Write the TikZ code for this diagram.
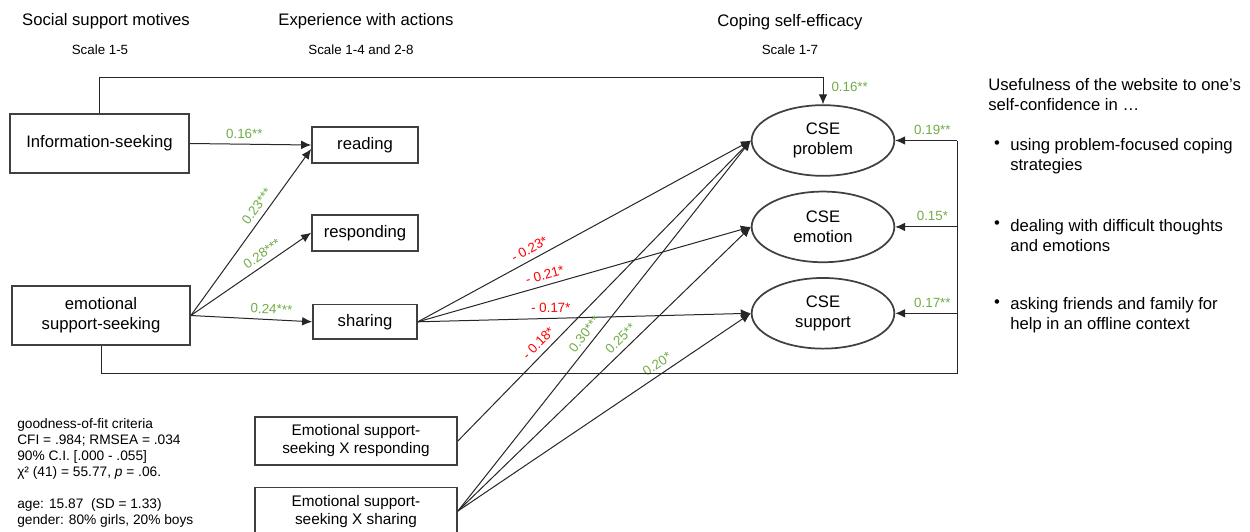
\documentclass[tikz,border=0pt]{standalone}
\usepackage{fontspec}
\setmainfont{Liberation Sans}
\usepackage{tikz}
\usetikzlibrary{arrows,arrows.meta,calc,positioning,shapes,shapes.geometric}
\definecolor{pathgreen}{HTML}{70AD47}
\definecolor{pathred}{HTML}{FF0000}
\definecolor{linegray}{HTML}{404040}

\begin{document}
\begin{tikzpicture}[x=0.75pt,y=-0.75pt,auto,>={Latex[length=7.5pt,width=6.5pt]}]
	\tikzstyle{block} = [draw=linegray, line width=1.3pt, rectangle, inner sep=0pt, align=center, font=\fontsize{12.5}{15}\selectfont]
	\tikzstyle{cse} = [draw=linegray, line width=1.3pt, ellipse, inner sep=0pt, align=center, minimum width=107pt, minimum height=53pt, font=\fontsize{12.5}{15}\selectfont]
	\tikzstyle{head} = [font=\fontsize{12.5}{15}\selectfont]
	\tikzstyle{scaletxt} = [font=\fontsize{10}{12}\selectfont]
	\tikzstyle{coef} = [font=\fontsize{10}{12}\selectfont, inner sep=4pt]
	\tikzstyle{gcoef} = [coef, text=pathgreen]
	\tikzstyle{rcoef} = [coef, text=pathred]
	\tikzstyle{conn} = [->, draw=black!85, line width=0.75pt]
	
	\useasboundingbox (0,0) rectangle (1250,532);
	
	\node[head] (hmot) at (106,21) {Social support motives};
	\node[scaletxt] (smot) at (100,50) {Scale 1-5};
	\node[head] (hexp) at (366,21) {Experience with actions};
	\node[scaletxt] (sexp) at (361,50) {Scale 1-4 and 2-8};
	\node[head] (hcse) at (790,22) {Coping self-efficacy};
	\node[scaletxt] (scse) at (790,50) {Scale 1-7};
	
	\node[block, minimum width=134pt, minimum height=44pt] (info) at (99.5,143.5) {Information-seeking};
	\node[block, minimum width=133.5pt, minimum height=44pt] (emosup) at (101,315.5) {emotional\\support-seeking};
	
	\node[block, minimum width=79.5pt, minimum height=27pt] (reading) at (365,145) {reading};
	\node[block, minimum width=79.5pt, minimum height=27pt, below = 37.5pt of reading] (responding) {responding};
	\node[block, minimum width=78pt, minimum height=26pt, below = 39pt of responding] (sharing) {sharing};
	
	\node[cse] (cseprob) at (823,140.5) {CSE\\problem};
	\node[cse, below = 10.5pt of cseprob] (cseemo) {CSE\\emotion};
	\node[cse, below = 10.5pt of cseemo] (csesup) {CSE\\support};
	
	\node[block, font=\fontsize{11.5}{13.5}\selectfont, minimum width=151.5pt, minimum height=35.5pt] (esxresp) at (356,441) {Emotional support-\\seeking X responding};
	\node[block, font=\fontsize{11.5}{13.5}\selectfont, minimum width=151.5pt, minimum height=35.5pt, below = 15.75pt of esxresp] (esxshar) {Emotional support-\\seeking X sharing};
	
	\node[anchor=north west, align=left, inner sep=0pt, font=\fontsize{10.3}{12}\selectfont] (fit) at (17,418) {goodness-of-fit criteria\\CFI = .984; RMSEA = .034\\90\% C.I. [.000 - .055]\\χ² (41) = 55.77, \textit{p} = .06.\\[12pt]age: 15.87\ \ (SD = 1.33)\\gender: 80\% girls, 20\% boys};
	
	\node[head, anchor=west, align=left, inner sep=0pt] (useful) at (988,94.5) {Usefulness of the website to one’s\\self-confidence in …};
	\node[head, anchor=west, align=left, inner sep=0pt] (item1) at (1010,156) {using problem-focused coping\\strategies};
	\node[head, anchor=west, align=left, inner sep=0pt] (item2) at (1010,236) {dealing with difficult thoughts\\and emotions};
	\node[head, anchor=west, align=left, inner sep=0pt] (item3) at (1010,315) {asking friends and family for\\help in an offline context};
	\node[head, inner sep=0pt] (bul1) at (997,145) {•};
	\node[head, inner sep=0pt] (bul2) at (997,225) {•};
	\node[head, inner sep=0pt] (bul3) at (997,304) {•};
	
	\coordinate (r1) at ($(cseprob.east)+(62,0)$);
	\coordinate (r2) at ($(cseemo.east)+(62,0)$);
	\coordinate (r3) at ($(csesup.east)+(62,0)$);
	
	\draw[conn] (info.east) -- node[gcoef, above, pos=0.45]{0.16**} (reading.west);
	\draw[conn] (emosup.east) -- node[gcoef, sloped, above, pos=0.62]{0.23***} ([yshift=-3pt]reading.west);
	\draw[conn] (emosup.east) -- node[gcoef, sloped, above, pos=0.64]{0.28***} (responding.west);
	\draw[conn] (emosup.east) -- node[gcoef, sloped, above, pos=0.66]{0.24***} (sharing.west);
	
	\draw[conn] (sharing.east) -- node[rcoef, sloped, above, pos=0.35]{- 0.23*} (cseprob.west);
	\draw[conn] (sharing.east) -- node[rcoef, sloped, above, pos=0.39]{- 0.21*} (cseemo.west);
	\draw[conn] (sharing.east) -- node[rcoef, sloped, above, pos=0.4]{- 0.17*} (csesup.west);
	
	\draw[conn] (esxresp.east) -- node[rcoef, sloped, above, pos=0.3]{- 0.18*} (cseprob.west);
	\draw[conn] (esxshar.east) -- node[gcoef, sloped, above, pos=0.46]{0.30***} (cseprob.west);
	\draw[conn] (esxshar.east) -- node[gcoef, sloped, above, pos=0.58]{0.25**} (cseemo.west);
	\draw[conn] (esxshar.east) -- node[gcoef, sloped, above, pos=0.7]{0.20*} (csesup.west);
	
	\draw[conn] (info.north) -- ++(0,-36) -| node[gcoef, right, pos=0.67, inner sep=6pt]{0.16**} (cseprob.north);
	\draw[draw=black!85, line width=0.75pt] (emosup.south) -- ++(0,28) -| (r1);
	\draw[conn] (r1) -- node[gcoef, above, pos=0.4]{0.19**} (cseprob.east);
	\draw[conn] (r2) -- node[gcoef, above, pos=0.4]{0.15*} (cseemo.east);
	\draw[conn] (r3) -- node[gcoef, above, pos=0.4]{0.17**} (csesup.east);
	
\end{tikzpicture}
\end{document}
